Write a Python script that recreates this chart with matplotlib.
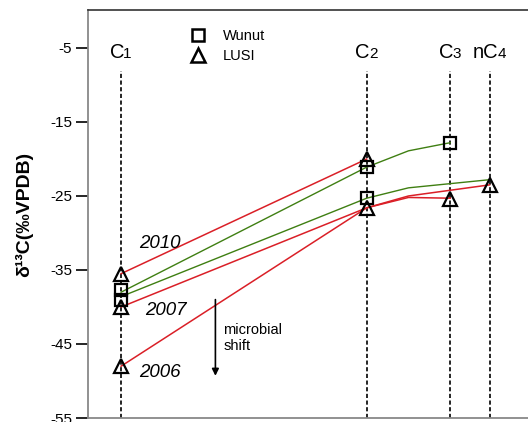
import matplotlib
matplotlib.use("Agg")
import matplotlib.pyplot as plt
from matplotlib.lines import Line2D
import numpy as np

plt.rcParams['font.family'] = ['Liberation Sans', 'DejaVu Sans']
plt.rcParams['axes.unicode_minus'] = False

# category positions along the x axis (C2-C3 midpoint is a line vertex only)
cat_main = ['C', 'C', 'C', 'nC']
cat_sub = ['1', '2', '3', '4']
cat_x = [0.0, 1.0, 1.34, 1.5]
mid_x = 1.17
line_x = [0.0, 1.0, mid_x, 1.34, 1.5]   # C1, C2, mid, C3, nC4

nan = np.nan
# Wunut (green lines)
wunut_a = [-38.0, -21.1, -18.9, -17.8, nan]
wunut_b = [-38.6, -25.3, -23.9, nan, -22.8]
# LUSI (red lines)
lusi_2010 = [-35.5, -20.0, nan, nan, nan]
lusi_2007 = [-40.0, -26.6, -25.2, -25.3, nan]
lusi_2006 = [-48.0, -26.6, -25.0, nan, -23.5]

# plotted markers (C1, C2, C3, nC4)
wunut_marks_x = [0.0, 0.0, 1.0, 1.0, 1.34]
wunut_marks_y = [-37.7, -39.1, -21.1, -25.3, -17.8]
lusi_marks_x = [0.0, 0.0, 0.0, 1.0, 1.0, 1.34, 1.5]
lusi_marks_y = [-35.5, -40.0, -48.0, -20.0, -26.6, -25.4, -23.5]

years = ['2010', '2007', '2006']
year_x = [0.159, 0.184, 0.159]
year_y = [-31.4, -40.5, -48.9]

yticks = [-5, -15, -25, -35, -45, -55]

fig = plt.figure(figsize=(5.28, 4.22), dpi=100)
ax = fig.add_axes([88/528, 4/422, 1 - 88/528 + 0.002, 408/422])
ax.set_xlim(-0.1347, 1.661)
ax.set_ylim(-55, 0.13)

red = '#da1f27'
green = '#3f7f12'

def plot_series(vals, color, lw):
    x = np.array(line_x)
    y = np.array(vals, dtype=float)
    m = ~np.isnan(y)
    ax.plot(x[m], y[m], color=color, lw=lw, zorder=3)

# dashed vertical guides
for cx in cat_x:
    ax.plot([cx, cx], [-55, -8.1], color='black', lw=1.2,
            linestyle=(0, (2.5, 1.5)), zorder=2)

for s in [lusi_2010, lusi_2007, lusi_2006]:
    plot_series(s, red, 1.1)
for s in [wunut_a, wunut_b]:
    plot_series(s, green, 1.0)

ax.plot(wunut_marks_x, wunut_marks_y, linestyle='none', marker='s', ms=9,
        mfc='none', mec='black', mew=1.6, zorder=5)
ax.plot(lusi_marks_x, lusi_marks_y, linestyle='none', marker='^', ms=10,
        mfc='none', mec='black', mew=1.6, zorder=5)

# category labels: main letters plus a smaller baseline-aligned digit
main_fs, sub_fs = 14.5, 11
for mn, sb, cx in zip(cat_main, cat_sub, cat_x):
    w_main = (0.722 + (0.556 if mn.startswith('n') else 0.0)) * main_fs
    w_sub = 0.556 * sub_fs
    split = -(w_main + w_sub) / 2 + w_main
    ax.annotate(mn, xy=(cx, -6.4), xytext=(split, 0), textcoords='offset points',
                ha='right', va='baseline', fontsize=main_fs)
    ax.annotate(sb, xy=(cx, -6.4), xytext=(split - 0.6, 0), textcoords='offset points',
                ha='left', va='baseline', fontsize=sub_fs)

# year labels
for yr, x, y in zip(years, year_x, year_y):
    ax.text(x, y, yr, ha='center', va='center', fontsize=13.5, style='italic')

# microbial shift arrow
ax.annotate('', xy=(0.384, -49.3), xytext=(0.384, -39.0),
            arrowprops=dict(arrowstyle='-|>', color='black', lw=1.2,
                            mutation_scale=10, shrinkA=0, shrinkB=0))
ax.text(0.416, -44.2, 'microbial\nshift', ha='left', va='center', fontsize=10.5,
        linespacing=1.25)

# legend
handles = [Line2D([], [], linestyle='none', marker='s', ms=9, mfc='none',
                  mec='black', mew=1.8),
           Line2D([], [], linestyle='none', marker='^', ms=10, mfc='none',
                  mec='black', mew=1.8)]
ax.legend(handles, ['Wunut', 'LUSI'], loc='upper left',
          bbox_to_anchor=(0.2, 0.985), frameon=False, fontsize=10.5,
          handletextpad=1.1, labelspacing=0.4, handlelength=1.2)

ax.set_yticks(yticks)
ax.set_xticks([])
ax.tick_params(axis='y', length=8.5, width=1.2, color='black',
               labelsize=11, pad=3)
for side in ['left', 'bottom']:
    ax.spines[side].set_color('#888888')
    ax.spines[side].set_linewidth(1.3)
ax.spines['top'].set_color('#333333')
ax.spines['top'].set_linewidth(1.2)
ax.spines['right'].set_visible(False)

ax.set_ylabel('δ¹³C(‰VPDB)', fontsize=14, fontweight='bold', labelpad=12)

fig.savefig('out.png', dpi=100)
